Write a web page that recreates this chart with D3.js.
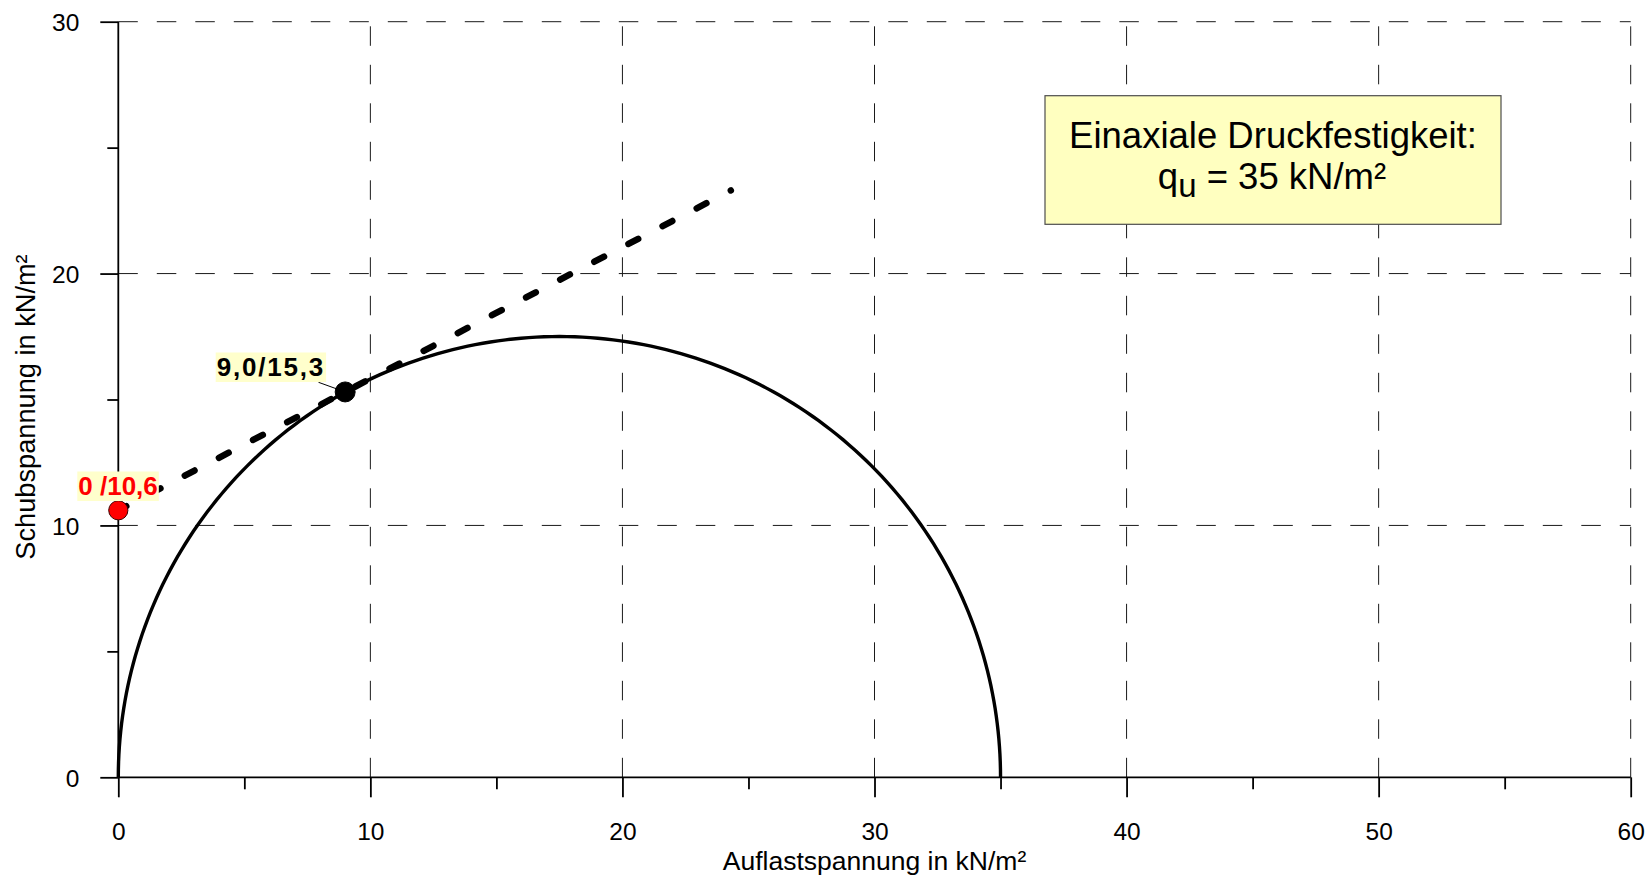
<!DOCTYPE html>
<html>
<head>
<meta charset="utf-8">
<script src="https://cdn.jsdelivr.net/npm/d3@7"></script>
<style>
  html, body { margin: 0; padding: 0; background: #fff; }
  svg { display: block; font-family: "Liberation Sans", Arial, sans-serif; }
</style>
</head>
<body>
<svg id="chart" width="1649" height="877"></svg>
<script>
// Axis ticks
const xMajorTicks = [0, 10, 20, 30, 40, 50, 60];
const xMinorTicks = [5, 15, 25, 35, 45, 55];
const yMajorTicks = [0, 10, 20, 30];
const yMinorTicks = [5, 15, 25];

// Unconfined compressive strength q_u (Mohr circle from 0 to q_u)
const quValue = [35];

// Measured points and their labels
const pointX = [0, 9.0];
const pointY = [10.6, 15.3];
const pointLabels = ["0 /10,6", "9,0/15,3"];
const pointColors = ["#ff0000", "#000000"];

// Tangent line through both points, drawn out to its end
const lineX = [0, 24.3];
const lineY = [10.6, 23.3];

const xTitle = "Auflastspannung in kN/m²";
const yTitle = "Schubspannung in kN/m²";
const boxLine1 = "Einaxiale Druckfestigkeit:";

const svg = d3.select("#chart");

const x = d3.scaleLinear().domain([0, 60]).range([118.3, 1630.7]);
const y = d3.scaleLinear().domain([0, 30]).range([777.3, 21.7]);

// Dashed grid
const grid = svg.append("g")
  .attr("stroke", "#1a1a1a").attr("stroke-width", 1)
  .attr("stroke-dasharray", "19.5,19").attr("fill", "none");
grid.selectAll("line.v").data(xMajorTicks.filter(d => d > 0)).enter().append("line")
  .attr("x1", d => x(d)).attr("x2", d => x(d))
  .attr("y1", y(0)).attr("y2", y(30));
grid.selectAll("line.h").data(yMajorTicks.filter(d => d > 0)).enter().append("line")
  .attr("y1", d => y(d)).attr("y2", d => y(d))
  .attr("x1", x(0)).attr("x2", x(60));

// X axis
const xAxis = svg.append("g").attr("transform", `translate(0,${y(0)})`)
  .call(d3.axisBottom(x).tickValues(xMajorTicks).tickSize(20).tickPadding(26).tickFormat(d3.format("d")));
xAxis.select(".domain").attr("stroke", "#000").attr("stroke-width", 1.8).attr("d", `M${x(0)},0H${x(60)}`);
xAxis.selectAll(".tick line").attr("stroke", "#000").attr("stroke-width", 1.8);
xAxis.selectAll(".tick text").attr("font-size", 24.5).attr("fill", "#000")
  .attr("font-family", "Liberation Sans, Arial, sans-serif").attr("dy", 0).attr("y", 63);
svg.append("g").attr("transform", `translate(0,${y(0)})`)
  .call(d3.axisBottom(x).tickValues(xMinorTicks).tickSize(12).tickFormat(""))
  .call(g => g.select(".domain").remove())
  .selectAll(".tick line").attr("stroke", "#000").attr("stroke-width", 1.8);

// Y axis
const yAxis = svg.append("g").attr("transform", `translate(${x(0)},0)`)
  .call(d3.axisLeft(y).tickValues(yMajorTicks).tickSize(18).tickPadding(21).tickFormat(d3.format("d")));
yAxis.select(".domain").attr("stroke", "#000").attr("stroke-width", 1.8).attr("d", `M0,${y(0)}V${y(30)}`);
yAxis.selectAll(".tick line").attr("stroke", "#000").attr("stroke-width", 1.8);
yAxis.selectAll(".tick text").attr("font-size", 24.5).attr("fill", "#000")
  .attr("font-family", "Liberation Sans, Arial, sans-serif").attr("dy", "0.36em");
svg.append("g").attr("transform", `translate(${x(0)},0)`)
  .call(d3.axisLeft(y).tickValues(yMinorTicks).tickSize(11).tickFormat(""))
  .call(g => g.select(".domain").remove())
  .selectAll(".tick line").attr("stroke", "#000").attr("stroke-width", 1.8);

// Axis titles
svg.append("text")
  .attr("x", (x(0) + x(60)) / 2).attr("y", 870)
  .attr("text-anchor", "middle").attr("font-size", 26.5)
  .attr("fill", "#000").text(xTitle);
svg.append("text")
  .attr("transform", `translate(35,${407}) rotate(-90)`)
  .attr("text-anchor", "middle").attr("font-size", 27.2)
  .attr("fill", "#000").text(yTitle);

// Mohr circle (upper half) for unconfined compression
const qu = quValue[0];
const arc = d3.range(0, 181).map(a => {
  const t = a * Math.PI / 180;
  return [qu / 2 + (qu / 2) * Math.cos(t), (qu / 2) * Math.sin(t)];
});
svg.append("path")
  .datum(arc)
  .attr("d", d3.line().x(d => x(d[0])).y(d => y(d[1])))
  .attr("fill", "none").attr("stroke", "#000").attr("stroke-width", 3.4);

// Dashed tangent line
svg.append("path")
  .datum(lineX.map((v, i) => [v, lineY[i]]))
  .attr("d", d3.line().x(d => x(d[0])).y(d => y(d[1])))
  .attr("fill", "none").attr("stroke", "#000").attr("stroke-width", 6.5)
  .attr("stroke-linecap", "round")
  .attr("stroke-dasharray", "11,27.5").attr("stroke-dashoffset", 2);

// Label leader for the black point
svg.append("line")
  .attr("x1", 318.5).attr("y1", 382.3)
  .attr("x2", x(pointX[1])).attr("y2", y(pointY[1]))
  .attr("stroke", "#000").attr("stroke-width", 1);

// Points
svg.selectAll("circle.pt").data(pointX).enter().append("circle")
  .attr("cx", d => x(d)).attr("cy", (d, i) => y(pointY[i]))
  .attr("r", (d, i) => i === 0 ? 9.6 : 10)
  .attr("fill", (d, i) => pointColors[i])
  .attr("stroke", (d, i) => i === 0 ? "#400000" : "#000").attr("stroke-width", 1);

// Point labels with pale background
const labelPos = [
  { ax: 78.3, base: 495, size: 26, ls: 0 },
  { ax: 216.7, base: 376, size: 26, ls: 1.8 }
];
pointLabels.forEach((txt, i) => {
  const p = labelPos[i];
  const g = svg.append("g");
  const t = g.append("text")
    .attr("x", p.ax).attr("y", p.base)
    .attr("font-size", p.size).attr("font-weight", "bold")
    .attr("letter-spacing", p.ls)
    .attr("fill", pointColors[i]).text(txt);
  const bb = t.node().getBBox();
  g.insert("rect", "text")
    .attr("x", bb.x - 1).attr("y", p.base - 23.5)
    .attr("width", bb.width + 2).attr("height", 29.5)
    .attr("fill", "#ffffcc");
});

// Annotation box
svg.append("rect")
  .attr("x", 1045).attr("y", 95.7).attr("width", 456).attr("height", 128.6)
  .attr("fill", "#ffffc0").attr("stroke", "#4d4d4d").attr("stroke-width", 1.2);
svg.append("text")
  .attr("x", 1273).attr("y", 148.3).attr("text-anchor", "middle")
  .attr("font-size", 36.5).attr("fill", "#000").text(boxLine1);
const l2 = svg.append("text")
  .attr("x", 1272).attr("y", 189).attr("text-anchor", "middle")
  .attr("font-size", 36.5).attr("fill", "#000");
l2.append("tspan").text("q");
l2.append("tspan").attr("font-size", 33).attr("dy", 8).text("u");
l2.append("tspan").attr("dy", -8).text(` = ${qu} kN/m²`);
</script>
</body>
</html>
